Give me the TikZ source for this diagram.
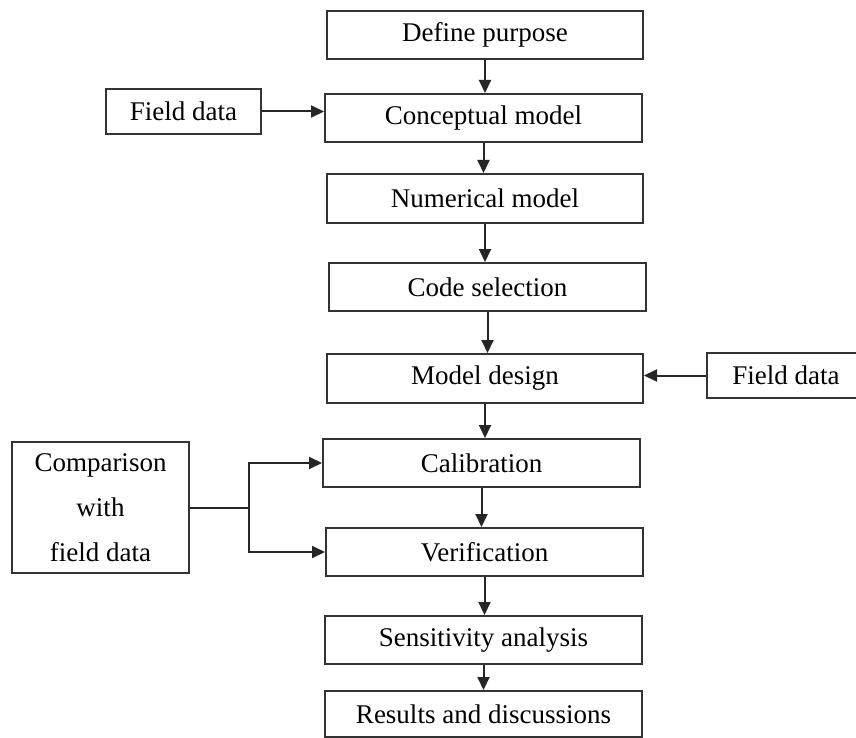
\documentclass[tikz,border=0pt]{standalone}
\usepackage{fontspec}
\setmainfont{Liberation Serif}
\usetikzlibrary{arrows.meta}
\begin{document}
\begin{tikzpicture}[x=1pt,y=-1pt,
  box/.style={draw=black!80, line width=2pt, fill=white, inner sep=0pt,
    font=\fontsize{27}{45}\selectfont, align=center},
  conn/.style={draw=black!85, line width=2pt},
  flow/.style={conn, -{Triangle[length=13pt,width=12pt]}}]
\fill[white] (0,0) rectangle (856,738);
\useasboundingbox (0,0) rectangle (856,738);

% main chain of steps
\node[box, minimum width=316, minimum height=48] (dp)  at (485,35)    {Define purpose};
\node[box, minimum width=317, minimum height=48] (cm)  at (483.5,118) {Conceptual model};
\node[box, minimum width=316, minimum height=49] (nm)  at (485,198.5) {Numerical model};
\node[box, minimum width=317, minimum height=48] (cs)  at (487.5,287) {Code selection};
\node[box, minimum width=316, minimum height=49] (md)  at (485,378.5) {Model design};
\node[box, minimum width=317, minimum height=48] (cal) at (481.5,463) {Calibration};
\node[box, minimum width=317, minimum height=48] (ver) at (484.5,552) {Verification};
\node[box, minimum width=317, minimum height=48] (sa)  at (483.5,640) {Sensitivity analysis};
\node[box, minimum width=317, minimum height=46] (rd)  at (483.5,714) {Results and discussions};

% side inputs
\node[box, minimum width=155, minimum height=45] (fd1) at (183.5,111.5) {Field data};
\node[box, minimum width=158, minimum height=45] (fd2) at (786,375.5) {Field data};
\node[box, minimum width=177, minimum height=131] (cwf) at (100.5,507.5) {Comparison\\with\\field data};

% vertical flow
\draw[flow] (dp.south)  -- (dp.south |- cm.north);
\draw[flow] (cm.south)  -- (cm.south |- nm.north);
\draw[flow] (nm.south)  -- (nm.south |- cs.north);
\draw[flow] (cs.south)  -- (cs.south |- md.north);
\draw[flow] (md.south)  -- (md.south |- cal.north);
\draw[flow] (cal.south) -- (cal.south |- ver.north);
\draw[flow] (ver.south) -- (ver.south |- sa.north);
\draw[flow] (sa.south)  -- (sa.south |- rd.north);

% field data inputs
\draw[flow] (fd1.east) -- (fd1.east -| cm.west);
\draw[flow] (fd2.west) -- (fd2.west -| md.east);

% comparison feeds calibration and verification
\path (cwf.east) ++(59,0) coordinate (j);
\draw[conn] (cwf.east) -- (j);
\draw[flow] (j) |- (cal.west);
\draw[flow] (j) |- (ver.west);
\end{tikzpicture}
\end{document}
